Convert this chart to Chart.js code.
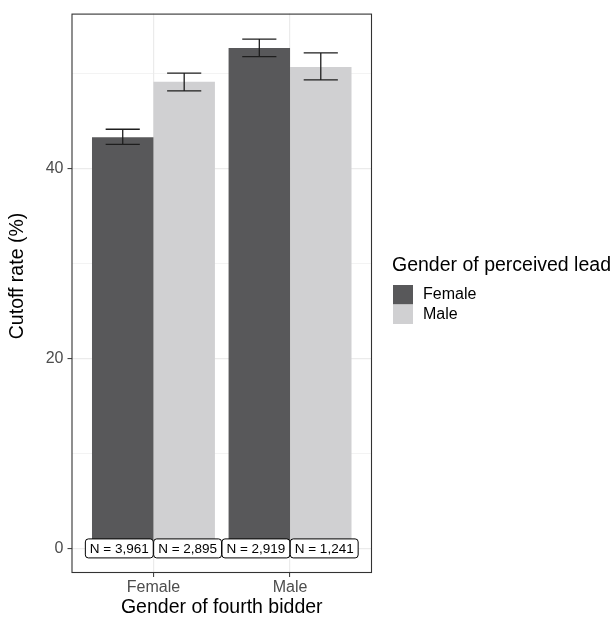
<!DOCTYPE html>
<html>
<head>
<meta charset="utf-8">
<script src="https://cdn.jsdelivr.net/npm/chart.js@4/dist/chart.umd.min.js"></script>
<style>
  html, body { margin: 0; padding: 0; background: #ffffff; }
  #wrap { width: 615px; height: 617px; }
</style>
</head>
<body>
<div id="wrap"><canvas id="chart" width="615" height="617"></canvas></div>
<script>
// Gender of fourth bidder (x categories)
const categories = ['Female', 'Male'];
// Gender of perceived lead (fill groups)
const leadGroups = ['Female', 'Male'];
const groupColors = ['#58585a', '#d0d0d2'];

// Cutoff rate (%) per bidder gender, one array per lead group
const rateFemaleLead = [43.3, 52.7];
const rateMaleLead = [49.15, 50.7];

// Confidence interval bounds
const lowFemaleLead = [42.55, 51.8];
const highFemaleLead = [44.15, 53.65];
const lowMaleLead = [48.2, 49.35];
const highMaleLead = [50.05, 52.2];

// Sample sizes shown under the bars
const countFemaleLead = ['N = 3,961', 'N = 2,919'];
const countMaleLead = ['N = 2,895', 'N = 1,241'];

// Y axis: grid every 10, labels every 20
const yGridTicks = [0, 10, 20, 30, 40, 50];
const yLabelStep = 20;

const FONT = '"Liberation Sans", Arial, Helvetica, sans-serif';
const positions = categories.map((_, i) => i + 1);

const toPoints = (vals) => vals.map((v, i) => ({ x: positions[i], y: v }));

const extras = {
  id: 'panelExtras',
  afterDatasetsDraw(chart) {
    const { ctx, chartArea: a, scales: { x, y } } = chart;
    const n = chart.data.datasets.length;

    // error bars
    ctx.save();
    ctx.strokeStyle = '#1e1e1e';
    ctx.lineWidth = 1.3;
    const capHalf = x.getPixelForValue(1.125) - x.getPixelForValue(1);
    chart.data.datasets.forEach((ds, i) => {
      const meta = chart.getDatasetMeta(i);
      meta.data.forEach((bar, j) => {
        const cx = bar.x;
        const top = y.getPixelForValue(ds.errHigh[j]);
        const bot = y.getPixelForValue(ds.errLow[j]);
        ctx.beginPath();
        ctx.moveTo(cx - capHalf, top); ctx.lineTo(cx + capHalf, top);
        ctx.moveTo(cx, top); ctx.lineTo(cx, bot);
        ctx.moveTo(cx - capHalf, bot); ctx.lineTo(cx + capHalf, bot);
        ctx.stroke();
      });
    });
    ctx.restore();

    // sample-size labels, dodged at full category width
    ctx.save();
    ctx.font = '13.5px ' + FONT;
    ctx.textAlign = 'center';
    ctx.textBaseline = 'middle';
    const y0 = y.getPixelForValue(0);
    chart.data.datasets.forEach((ds, i) => {
      const shift = (i - (n - 1) / 2) / n;
      ds.counts.forEach((txt, j) => {
        const cx = x.getPixelForValue(positions[j] + shift);
        const w = ctx.measureText(txt).width + 9;
        const h = 19;
        ctx.beginPath();
        ctx.roundRect(cx - w / 2, y0 - h / 2, w, h, 3);
        ctx.fillStyle = '#ffffff';
        ctx.fill();
        ctx.strokeStyle = '#000000';
        ctx.lineWidth = 1;
        ctx.stroke();
        ctx.fillStyle = '#000000';
        ctx.fillText(txt, cx, y0 + 0.5);
      });
    });
    ctx.restore();

    // panel border
    ctx.save();
    ctx.strokeStyle = '#333333';
    ctx.lineWidth = 1.1;
    ctx.strokeRect(a.left + 0.5, a.top + 0.5, a.right - a.left - 1, a.bottom - a.top - 1);
    ctx.restore();
  },
  afterDraw(chart) {
    const { ctx, chartArea: a } = chart;
    // y axis title
    ctx.save();
    ctx.font = '19.5px ' + FONT;
    ctx.fillStyle = '#000000';
    ctx.textAlign = 'center';
    ctx.textBaseline = 'middle';
    ctx.translate(18, 276);
    ctx.rotate(-Math.PI / 2);
    ctx.fillText('Cutoff rate (%)', 0, 0);
    ctx.restore();

    // legend
    ctx.save();
    const lx = 392;
    ctx.font = '19.5px ' + FONT;
    ctx.fillStyle = '#000000';
    ctx.textAlign = 'left';
    ctx.textBaseline = 'alphabetic';
    ctx.fillText('Gender of perceived lead', lx, 271);
    ctx.font = '16px ' + FONT;
    ctx.textBaseline = 'middle';
    chart.data.datasets.forEach((ds, i) => {
      const ky = 285 + i * 19.5;
      ctx.fillStyle = ds.backgroundColor;
      ctx.fillRect(lx + 1, ky, 20, 19.5);
      ctx.fillStyle = '#000000';
      ctx.fillText(ds.label, lx + 31, ky + 10);
    });
    ctx.restore();
  }
};

const datasets = [
  { label: leadGroups[0], data: toPoints(rateFemaleLead), backgroundColor: groupColors[0],
    errLow: lowFemaleLead, errHigh: highFemaleLead, counts: countFemaleLead },
  { label: leadGroups[1], data: toPoints(rateMaleLead), backgroundColor: groupColors[1],
    errLow: lowMaleLead, errHigh: highMaleLead, counts: countMaleLead }
];

new Chart(document.getElementById('chart'), {
  type: 'bar',
  data: { datasets },
  plugins: [extras],
  options: {
    responsive: false,
    animation: false,
    devicePixelRatio: 1,
    layout: { padding: { top: 8, right: 243, bottom: 0, left: 0 } },
    datasets: { bar: { categoryPercentage: 0.9, barPercentage: 1.0, borderWidth: 0 } },
    plugins: { legend: { display: false }, tooltip: { enabled: false } },
    scales: {
      x: {
        type: 'linear',
        min: 0.4,
        max: 2.6,
        offset: false,
        afterBuildTicks: (s) => { s.ticks = positions.map(v => ({ value: v })); },
        afterFit: (s) => { s.height = 44; },
        border: { display: false },
        grid: { offset: false, color: '#ebebeb', lineWidth: 1.2, tickColor: '#333333', tickLength: 4, tickWidth: 1 },
        ticks: {
          autoSkip: false, maxRotation: 0, padding: 1,
          color: '#4d4d4d', font: { family: FONT, size: 16 },
          callback: (v) => categories[Math.round(v) - 1] || ''
        },
        title: {
          display: true, text: 'Gender of fourth bidder', color: '#000000',
          font: { family: FONT, size: 19.5, lineHeight: 1 }, padding: { top: 0, bottom: 0 }
        }
      },
      y: {
        type: 'linear',
        min: -2.59,
        max: 56.33,
        afterBuildTicks: (s) => { s.ticks = yGridTicks.map(v => ({ value: v })); },
        afterFit: (s) => { s.width = 71.5; },
        border: { display: false },
        grid: {
          color: '#ebebeb',
          lineWidth: (c) => (c.tick && c.tick.value % yLabelStep === 0 ? 1.2 : 0.6),
          tickColor: (c) => (c.tick && c.tick.value % yLabelStep === 0 ? '#333333' : 'rgba(0,0,0,0)'),
          tickLength: 4, tickWidth: 1
        },
        ticks: {
          padding: 4, color: '#4d4d4d', font: { family: FONT, size: 16 },
          callback: (v) => (v % yLabelStep === 0 ? String(v) : '')
        },
        title: { display: false }
      }
    }
  }
});
</script>
</body>
</html>
